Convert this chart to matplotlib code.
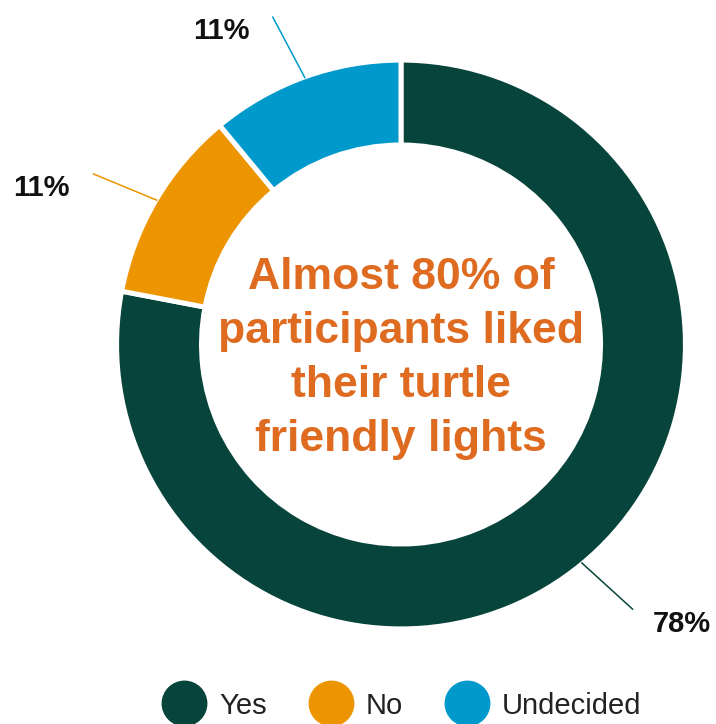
import numpy as np
import matplotlib
matplotlib.use("Agg")
import matplotlib.pyplot as plt
from matplotlib.lines import Line2D

plt.rcParams["font.family"] = ["Liberation Sans", "DejaVu Sans"]

labels = ["Yes", "No", "Undecided"]
values = [78, 11, 11]
colors = ["#07443C", "#EC9500", "#0099CC"]
center_text = "Almost 80% of\nparticipants liked\ntheir turtle\nfriendly lights"

W, H = 716, 724
cx, cy, R = 401, 344.5, 283  # pixel layout of the donut

fig = plt.figure(figsize=(W / 100, H / 100), dpi=100)
ax = fig.add_axes([0, 0, 1, 1])

wedges, _ = ax.pie(values, colors=colors, startangle=90, counterclock=False,
                   radius=1.005,
                   wedgeprops=dict(width=0.30, edgecolor="white", linewidth=3.6))
ax.set_xlim(-cx / R, (W - cx) / R)
ax.set_ylim(-(H - cy) / R, cy / R)
ax.axis("off")

# leader lines + percentage labels
for w, v, c in zip(wedges, values, colors):
    mid = np.deg2rad((w.theta1 + w.theta2) / 2)
    end = mid + np.deg2rad(1.6)
    x0, y0 = np.cos(mid), np.sin(mid)
    x1, y1 = 1.245 * np.cos(end), 1.245 * np.sin(end)
    ax.plot([x0, x1], [y0, y1], color=c, lw=1.1, solid_capstyle="butt")
    if x1 < 0:
        ax.text(x1 - 0.082, y1 - 0.05, f"{v}%", ha="right", va="center",
                fontsize=21, fontweight="bold", color="#111111")
    else:
        ax.text(x1 + 0.07, y1 - 0.05, f"{v}%", ha="left", va="center",
                fontsize=21, fontweight="bold", color="#111111")

ax.text(0, -0.05, center_text, ha="center", va="center", fontsize=32,
        fontweight="bold", color="#DE6B1F", linespacing=1.41)

handles = [Line2D([], [], marker="o", linestyle="none", markersize=32,
                  markerfacecolor=c, markeredgecolor=c) for c in colors]
fig.legend(handles, labels, loc="center", ncol=3, frameon=False,
           bbox_to_anchor=(401.5 / W, 1 - 705.5 / H), fontsize=21,
           handlelength=1.54, handletextpad=0.41, columnspacing=1.44,
           labelcolor="#222222", borderpad=0)

fig.savefig("out.png", dpi=100)
